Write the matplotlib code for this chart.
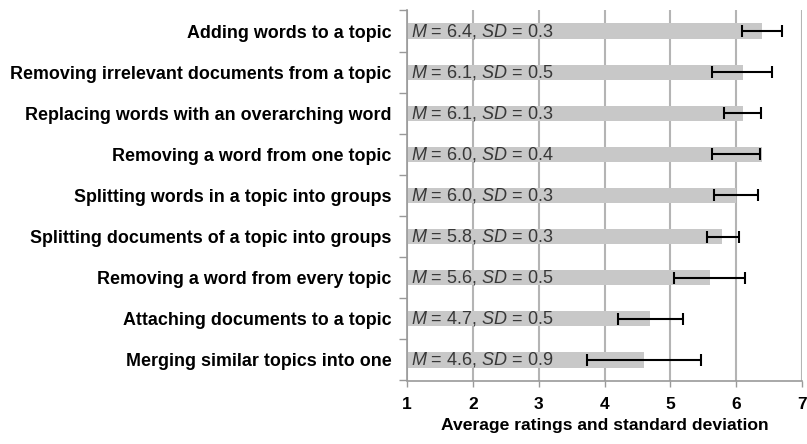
import matplotlib
matplotlib.use("Agg")
import matplotlib.pyplot as plt
import numpy as np

categories = [
    "Adding words to a topic",
    "Removing irrelevant documents from a topic",
    "Replacing words with an overarching word",
    "Removing a word from one topic",
    "Splitting words in a topic into groups",
    "Splitting documents of a topic into groups",
    "Removing a word from every topic",
    "Attaching documents to a topic",
    "Merging similar topics into one",
]
bar_values = [6.39, 6.10, 6.10, 6.39, 5.99, 5.79, 5.60, 4.69, 4.60]
mean_labels = ["6.4", "6.1", "6.1", "6.0", "6.0", "5.8", "5.6", "4.7", "4.6"]
sd_labels = ["0.3", "0.5", "0.3", "0.4", "0.3", "0.3", "0.5", "0.5", "0.9"]
err_centers = [6.395, 6.09, 6.09, 5.995, 5.995, 5.795, 5.595, 4.70, 4.60]
err_half = [0.305, 0.46, 0.28, 0.365, 0.335, 0.245, 0.545, 0.49, 0.87]
x_ticks = [1, 2, 3, 4, 5, 6, 7]
x_label = "Average ratings and standard deviation"

plt.rcParams['font.family'] = ['Liberation Sans', 'DejaVu Sans']
plt.rcParams['mathtext.fontset'] = 'custom'
plt.rcParams['mathtext.rm'] = 'Liberation Sans'
plt.rcParams['mathtext.it'] = 'Liberation Sans:italic'

W, H = 807, 444
fig = plt.figure(figsize=(W / 100, H / 100), dpi=100)
ax = fig.add_axes([407 / W, 1 - 380.5 / H, (802 - 407) / W, (380.5 - 10.5) / H])

y = np.arange(len(categories))
ax.set_axisbelow(True)
ax.barh(y, [v - 1 for v in bar_values], left=1, height=0.37, color="#c8c8c8", zorder=2)
ax.errorbar(err_centers, y, xerr=err_half, fmt="none", ecolor="black",
            elinewidth=1.5, capsize=4.5, capthick=1.5, zorder=3)

for yi, m, s in zip(y, mean_labels, sd_labels):
    ax.text(1.06, yi, r"$\it{M}$ = " + m + r", $\it{SD}$ = " + s,
            va="center", ha="left", fontsize=13, color="#383838", zorder=4)

ax.set_xlim(1, 7)
ax.set_ylim(len(categories) - 0.5, -0.5)
ax.set_xticks(x_ticks)
ax.set_xticklabels([str(t) for t in x_ticks], fontweight="bold", fontsize=12.5)
ax.set_yticks(y)
ax.set_yticklabels(categories, fontweight="bold", fontsize=12.9)
ax.set_yticks(np.arange(-0.5, len(categories) + 0.5, 1), minor=True)
ax.tick_params(axis="y", which="major", length=0, pad=11)
ax.tick_params(axis="y", which="minor", length=6, color="#999999", width=1)
ax.tick_params(axis="x", which="major", length=4, color="#999999", width=1, pad=8)
ax.grid(axis="x", color="#b4b4b4", linewidth=1.5, zorder=0)
for sp in ["top", "right"]:
    ax.spines[sp].set_visible(False)
for sp in ["left", "bottom"]:
    ax.spines[sp].set_color("#999999")
    ax.spines[sp].set_linewidth(1.2)
ax.set_xlabel(x_label, fontweight="bold", fontsize=12.6, labelpad=4)

fig.savefig("out.png", dpi=100)
